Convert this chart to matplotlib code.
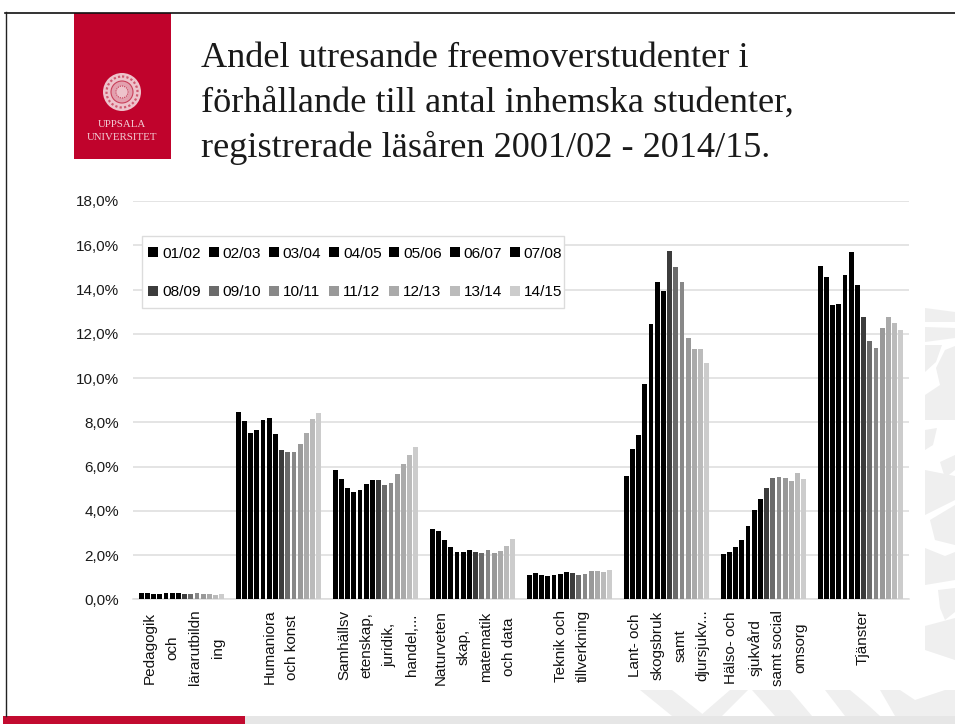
import numpy as np
import matplotlib
matplotlib.use('Agg')
import matplotlib.pyplot as plt
from matplotlib.patches import Rectangle, Circle, Polygon
from matplotlib.transforms import ScaledTranslation

W, H = 955, 724

years = ['01/02', '02/03', '03/04', '04/05', '05/06', '06/07', '07/08',
         '08/09', '09/10', '10/11', '11/12', '12/13', '13/14', '14/15']
greys = ['#000000'] * 7 + ['#3c3c3c', '#6b6b6b', '#888888', '#999999',
                           '#aaaaaa', '#bbbbbb', '#cccccc']

categories = ['Pedagogik\noch\nlärarutbildn\ning', 'Humaniora\noch konst',
              'Samhällsv\netenskap,\njuridik,\nhandel,...',
              'Naturveten\nskap,\nmatematik\noch data', 'Teknik och\ntillverkning',
              'Lant- och\nskogsbruk\nsamt\ndjursjukv...',
              'Hälso- och\nsjukvård\nsamt social\nomsorg', 'Tjänster']

pedagogik = [.29, .27, .23, .24, .27, .29, .27, .24, .24, .27, .24, .23, .20, .23]
humaniora = [8.45, 8.05, 7.50, 7.65, 8.10, 8.20, 7.45, 6.73, 6.67, 6.66, 7.02, 7.50, 8.15, 8.40]
samhalls = [5.86, 5.44, 5.05, 4.85, 4.92, 5.20, 5.38, 5.41, 5.18, 5.24, 5.66, 6.10, 6.50, 6.87]
naturvet = [3.16, 3.09, 2.68, 2.36, 2.15, 2.14, 2.21, 2.15, 2.08, 2.21, 2.09, 2.17, 2.42, 2.73]
teknik = [1.10, 1.17, 1.08, 1.05, 1.08, 1.16, 1.22, 1.17, 1.11, 1.13, 1.28, 1.28, 1.23, 1.33]
lant = [5.59, 6.78, 7.44, 9.74, 12.44, 14.35, 13.93, 15.72, 15.00, 14.35, 11.82, 11.30, 11.33, 10.69]
halso = [2.06, 2.15, 2.35, 2.67, 3.30, 4.02, 4.55, 5.02, 5.48, 5.51, 5.50, 5.36, 5.69, 5.45]
tjanster = [15.05, 14.56, 13.30, 13.36, 14.67, 15.71, 14.19, 12.77, 11.67, 11.34, 12.27, 12.77, 12.48, 12.18]

table = np.array([pedagogik, humaniora, samhalls, naturvet, teknik, lant, halso, tjanster])

title_lines = ['Andel utresande freemoverstudenter i',
               'förhållande till antal inhemska studenter,',
               'registrerade läsåren 2001/02 - 2014/15.']

plt.rcParams['font.family'] = ['Liberation Sans', 'DejaVu Sans']

fig = plt.figure(figsize=(W / 100, H / 100), dpi=100)

# slide layer in pixel coordinates
bg = fig.add_axes([0, 0, 1, 1])
bg.set_xlim(0, W)
bg.set_ylim(H, 0)
bg.axis('off')

# faint seal watermark, right strip then bottom strip
wm = '#efefef'
strip = [[(925, 308), (955, 312), (955, 322), (925, 322)],
         [(925, 327), (955, 328), (955, 338), (925, 342)],
         [(925, 345), (942, 345), (936, 362), (925, 372)],
         [(945, 350), (955, 346), (955, 420), (925, 420), (925, 395), (940, 385), (936, 368)],
         [(925, 430), (937, 428), (933, 445), (925, 450)],
         [(940, 462), (955, 455), (955, 470), (945, 478)],
         [(925, 470), (955, 476), (955, 500), (925, 515)],
         [(930, 520), (955, 505), (955, 545), (935, 540)],
         [(925, 548), (945, 556), (955, 552), (955, 580), (925, 585)],
         [(938, 590), (955, 588), (955, 612), (945, 620), (940, 608)],
         [(925, 626), (955, 618), (955, 660), (925, 650)]]
bottom_strip = [[(640, 690), (672, 690), (705, 716), (672, 716)],
                [(700, 716), (730, 690), (748, 690), (722, 716)],
                [(752, 690), (790, 690), (812, 716), (775, 716)],
                [(825, 690), (850, 690), (868, 705), (880, 716), (845, 716)],
                [(880, 690), (900, 690), (915, 700), (945, 690), (955, 690), (955, 716), (895, 716)]]
for pts in strip + bottom_strip:
    bg.add_patch(Polygon(pts, closed=True, fc=wm, ec='none'))

bg.plot([5, W], [12.5, 12.5], color='#111111', lw=1.2)
bg.plot([5.5, 5.5], [12, 716], color='#222222', lw=1.0)
bg.add_patch(Rectangle((245, 716), W - 245, 8, fc='#e6e6e6', ec='none'))
bg.add_patch(Rectangle((3, 716), 242, 8, fc='#c20a2f', ec='none'))

# logo block
bg.add_patch(Rectangle((74, 13), 97, 146, fc='#c0032c', ec='none'))
bg.add_patch(Circle((122, 92), 19, fc='#eec3cb', ec='none'))
bg.add_patch(Circle((122, 92), 15.5, fc='none', ec='#cf5a70', lw=1.6, ls=(0, (1, 1))))
bg.add_patch(Circle((122, 92), 11, fc='#e3a0ae', ec='#c8405a', lw=0.8))
bg.add_patch(Circle((122, 92), 6, fc='#eec3cb', ec='#c8405a', lw=0.8, ls=(0, (1, 1))))
bg.text(122, 124.5, 'UPPSALA', color='#f2cfd6', fontsize=7.8, ha='center', va='center',
        family='Liberation Serif')
bg.text(122, 138, 'UNIVERSITET', color='#f2cfd6', fontsize=7.8, ha='center', va='center',
        family='Liberation Serif')

for line, y in zip(title_lines, [67, 112, 157]):
    bg.text(201, y, line, fontsize=26.1, family='Liberation Serif', color='#1a1a1a',
            ha='left', va='baseline')

# chart
left, right, top, bottom = 133, 909, 201, 599.3
ax = fig.add_axes([left / W, 1 - bottom / H, (right - left) / W, (bottom - top) / H])
ax.patch.set_alpha(0)
pitch = 6.2 / 97
x = np.arange(len(categories)) + 0.5
bars = []
for j, (year, col) in enumerate(zip(years, greys)):
    bars.append(ax.bar(x + (j - 6.5) * pitch, table[:, j], width=4.9 / 97, color=col,
                       label=year, zorder=3))

ax.set_xlim(0, 8)
ax.set_ylim(0, 18)
ax.set_yticks(np.arange(0, 19, 2))
ax.set_yticklabels([f'{v},0%' for v in range(0, 19, 2)], fontsize=11, color='#1a1a1a')
ax.set_xticks(x)
ax.set_xticklabels(categories, rotation=90, fontsize=11, color='#111111',
                   ha='center', va='top', linespacing=1.78)
ax.tick_params(axis='x', length=0, pad=7.5)
ax.tick_params(axis='y', length=0, pad=10)
# the rotated labels sit a little right of the group centres (must come after tick_params)
nudge = ScaledTranslation(2.3 / 100, 0, fig.dpi_scale_trans)
for lab in ax.get_xticklabels():
    lab.set_transform(lab.get_transform() + nudge)
ax.grid(axis='y', color='#dcdcdc', lw=1.1, zorder=0)
for s in ['top', 'right', 'left']:
    ax.spines[s].set_visible(False)
ax.spines['bottom'].set_color('#dcdcdc')
ax.spines['bottom'].set_linewidth(1.1)

# legend box drawn by hand, the row gap is wider than a legend frame allows
ax.add_patch(Rectangle((141.5 / W, 1 - 308 / H), 422 / W, 72.5 / H, transform=fig.transFigure,
                       fc='white', ec='#dcdcdc', lw=1.0, zorder=4, clip_on=False))
# legend fills by column, so pair the two rows up
order = [i for k in range(7) for i in (k, k + 7)]
leg = ax.legend([bars[i] for i in order], [years[i] for i in order], ncol=7,
                loc='center left', bbox_to_anchor=(141.5 / W, 1 - 273 / H),
                bbox_transform=fig.transFigure,
                fontsize=11.1, frameon=False,
                handlelength=0.65, handleheight=0.65, handletextpad=0.25, columnspacing=0.5,
                labelspacing=1.6, borderpad=0.45, borderaxespad=0)
leg.set_zorder(5)

fig.savefig('out.png', dpi=100)
plt.close(fig)
